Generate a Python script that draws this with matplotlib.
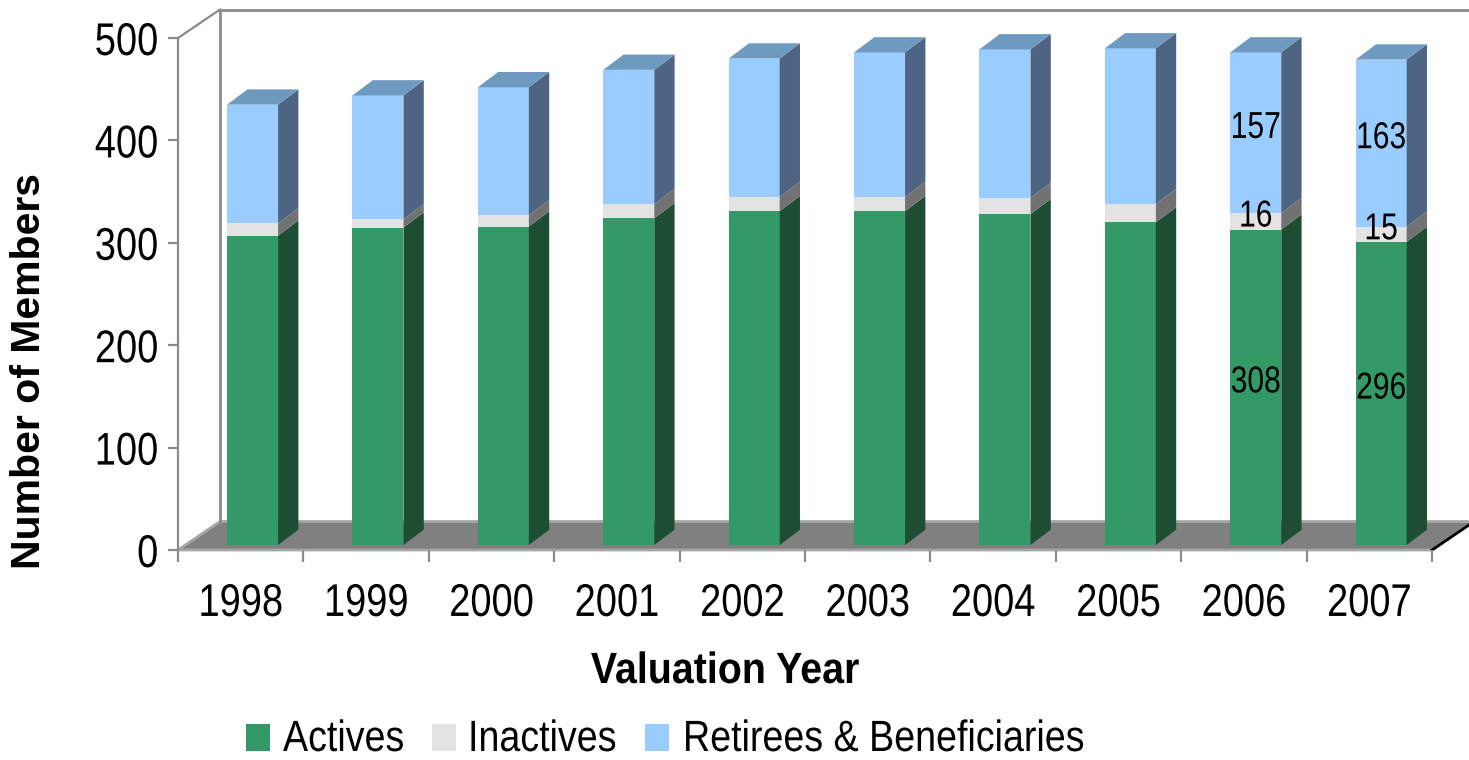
import numpy as np
import matplotlib
matplotlib.use("Agg")
import matplotlib.pyplot as plt
from matplotlib.patches import Polygon, Rectangle
from matplotlib.patheffects import AbstractPathEffect
from matplotlib.transforms import Affine2D

# ---------------- data ----------------
years = ["1998", "1999", "2000", "2001", "2002", "2003", "2004", "2005", "2006", "2007"]
actives = [302, 310, 311, 319, 326, 326, 323, 315, 308, 296]
inactives = [12, 8, 11, 14, 14, 14, 16, 18, 16, 15]
retirees = [116, 121, 125, 131, 135, 141, 145, 152, 157, 163]
labelled_years = ["2006", "2007"]
series_names = ["Actives", "Inactives", "Retirees & Beneficiaries"]
yticks = [0, 100, 200, 300, 400, 500]

FAM = ["Liberation Sans", "DejaVu Sans"]


class Condense(AbstractPathEffect):
    """Render a text horizontally condensed (like a 'Narrow' face)."""

    def __init__(self, text, factor):
        super().__init__()
        self.text = text
        self.factor = factor

    def draw_path(self, renderer, gc, tpath, affine, rgbFace=None):
        bb = self.text.get_window_extent(renderer)
        ha = self.text.get_horizontalalignment()
        cx = {"left": bb.x0, "right": bb.x1}.get(ha, 0.5 * (bb.x0 + bb.x1))
        aff = affine + Affine2D().translate(-cx, 0).scale(self.factor, 1).translate(cx, 0)
        renderer.draw_path(gc, tpath, aff, rgbFace)


def condense(t, f):
    t.set_path_effects([Condense(t, f)])
    return t


# ---------------- styles ----------------
W, H = 1469, 760
front_cols = ["#339966", "#E3E3E3", "#99CCFF"]
side_cols = ["#1D4E34", "#727272", "#4D6482"]
top_col = "#6F9ABF"
axis_gray = "#8C8C8C"

fig = plt.figure(figsize=(W / 100, H / 100), dpi=100)
fig.patch.set_facecolor("white")
ax = fig.add_axes([178 / W, (H - 550) / H, 1254 / W, 512 / H])
ax.set_xlim(0, 10)
ax.set_ylim(0, 500)
ax.patch.set_visible(False)
for s in ["top", "right", "bottom"]:
    ax.spines[s].set_visible(False)
ax.spines["left"].set_color(axis_gray)
ax.spines["left"].set_linewidth(1.6)

# 3D geometry (data units)
DX, DY = 0.335, 27.8      # wall / floor depth
BX, BY = 0.162, 14.9      # bar depth
BASE = 4.9                # bar front baseline on floor
BAR_OFF, BAR_W = 0.391, 0.407

# floor
floor = Polygon([(0, 0), (10, 0), (10 + DX, DY), (DX, DY)], closed=True,
                facecolor="#808080", edgecolor="#A6A6A6", lw=2, zorder=1, clip_on=False)
ax.add_patch(floor)
ax.plot([10, 10 + DX], [0, DY], color="black", lw=2, zorder=1.5, clip_on=False)
# back wall edges
ax.plot([DX, DX], [DY, 500 + DY], color=axis_gray, lw=2, zorder=1, clip_on=False)
ax.plot([DX, 10 + DX + 1], [500 + DY, 500 + DY], color=axis_gray, lw=2, zorder=1, clip_on=False)
ax.plot([0, DX], [500, 500 + DY], color=axis_gray, lw=1.6, zorder=1, clip_on=False)

# bars
x = np.arange(len(years))
left = x + BAR_OFF
centers = left + BAR_W / 2
bottom = np.full(len(years), BASE, dtype=float)
series = [actives, inactives, retirees]
for si, vals in enumerate(series):
    vals = np.array(vals, dtype=float)
    ax.bar(centers, vals, width=BAR_W, bottom=bottom, color=front_cols[si],
           edgecolor="none", zorder=3, clip_on=False)
    for i in range(len(years)):
        xr = left[i] + BAR_W
        y0, y1 = bottom[i], bottom[i] + vals[i]
        ax.add_patch(Polygon([(xr, y0), (xr + BX, y0 + BY), (xr + BX, y1 + BY), (xr, y1)],
                             closed=True, facecolor=side_cols[si], edgecolor="none",
                             zorder=3, clip_on=False))
        if si == len(series) - 1:
            xl = left[i]
            ax.add_patch(Polygon([(xl, y1), (xr, y1), (xr + BX, y1 + BY), (xl + BX, y1 + BY)],
                                 closed=True, facecolor=top_col, edgecolor="none",
                                 zorder=3, clip_on=False))
        if years[i] in labelled_years:
            t = ax.text(centers[i], (y0 + y1) / 2 - 5, f"{int(vals[i])}", ha="center",
                        va="baseline", fontsize=27, family=FAM, color="black", zorder=6)
            condense(t, 0.8)
    bottom = bottom + vals

# ticks
ax.set_yticks(yticks)
ax.set_yticklabels([str(t) for t in yticks], family=FAM, fontsize=33)
ax.tick_params(axis="y", which="major", length=7.2, width=1.6, color=axis_gray, pad=7)
ax.set_xticks(x + 0.5)
ax.set_xticklabels(years, family=FAM, fontsize=33)
ax.tick_params(axis="x", which="major", length=0, pad=23)
ax.set_xticks(np.arange(0, 11), minor=True)
ax.tick_params(axis="x", which="minor", length=8.6, width=1.6, color=axis_gray)
for t in ax.get_yticklabels() + ax.get_xticklabels():
    condense(t, 0.83)

# axis titles
condense(fig.text(725 / W, 1 - 683 / H, "Valuation Year", ha="center", va="baseline",
                  fontsize=31.5, fontweight="bold", family=FAM), 0.9)
fig.text(29 / W, 1 - 371.5 / H, "Number of Members", ha="center", va="center",
         rotation=90, fontsize=29.5, fontweight="bold", family=FAM)

# legend (square swatch + condensed label per series)
leg_sq_x = [246, 432, 645]
leg_tx_x = [283, 468, 683]
LEG_BASE = 751
for c, name, sx, tx in zip(front_cols, series_names, leg_sq_x, leg_tx_x):
    fig.patches.append(Rectangle((sx / W, 1 - LEG_BASE / H), 24 / W, 27 / H,
                                 transform=fig.transFigure, facecolor=c,
                                 edgecolor="none", figure=fig))
    condense(fig.text(tx / W, 1 - LEG_BASE / H, name, ha="left", va="baseline",
                      fontsize=31.5, family=FAM), 0.86)

fig.savefig("out.png", dpi=100, facecolor="white")
